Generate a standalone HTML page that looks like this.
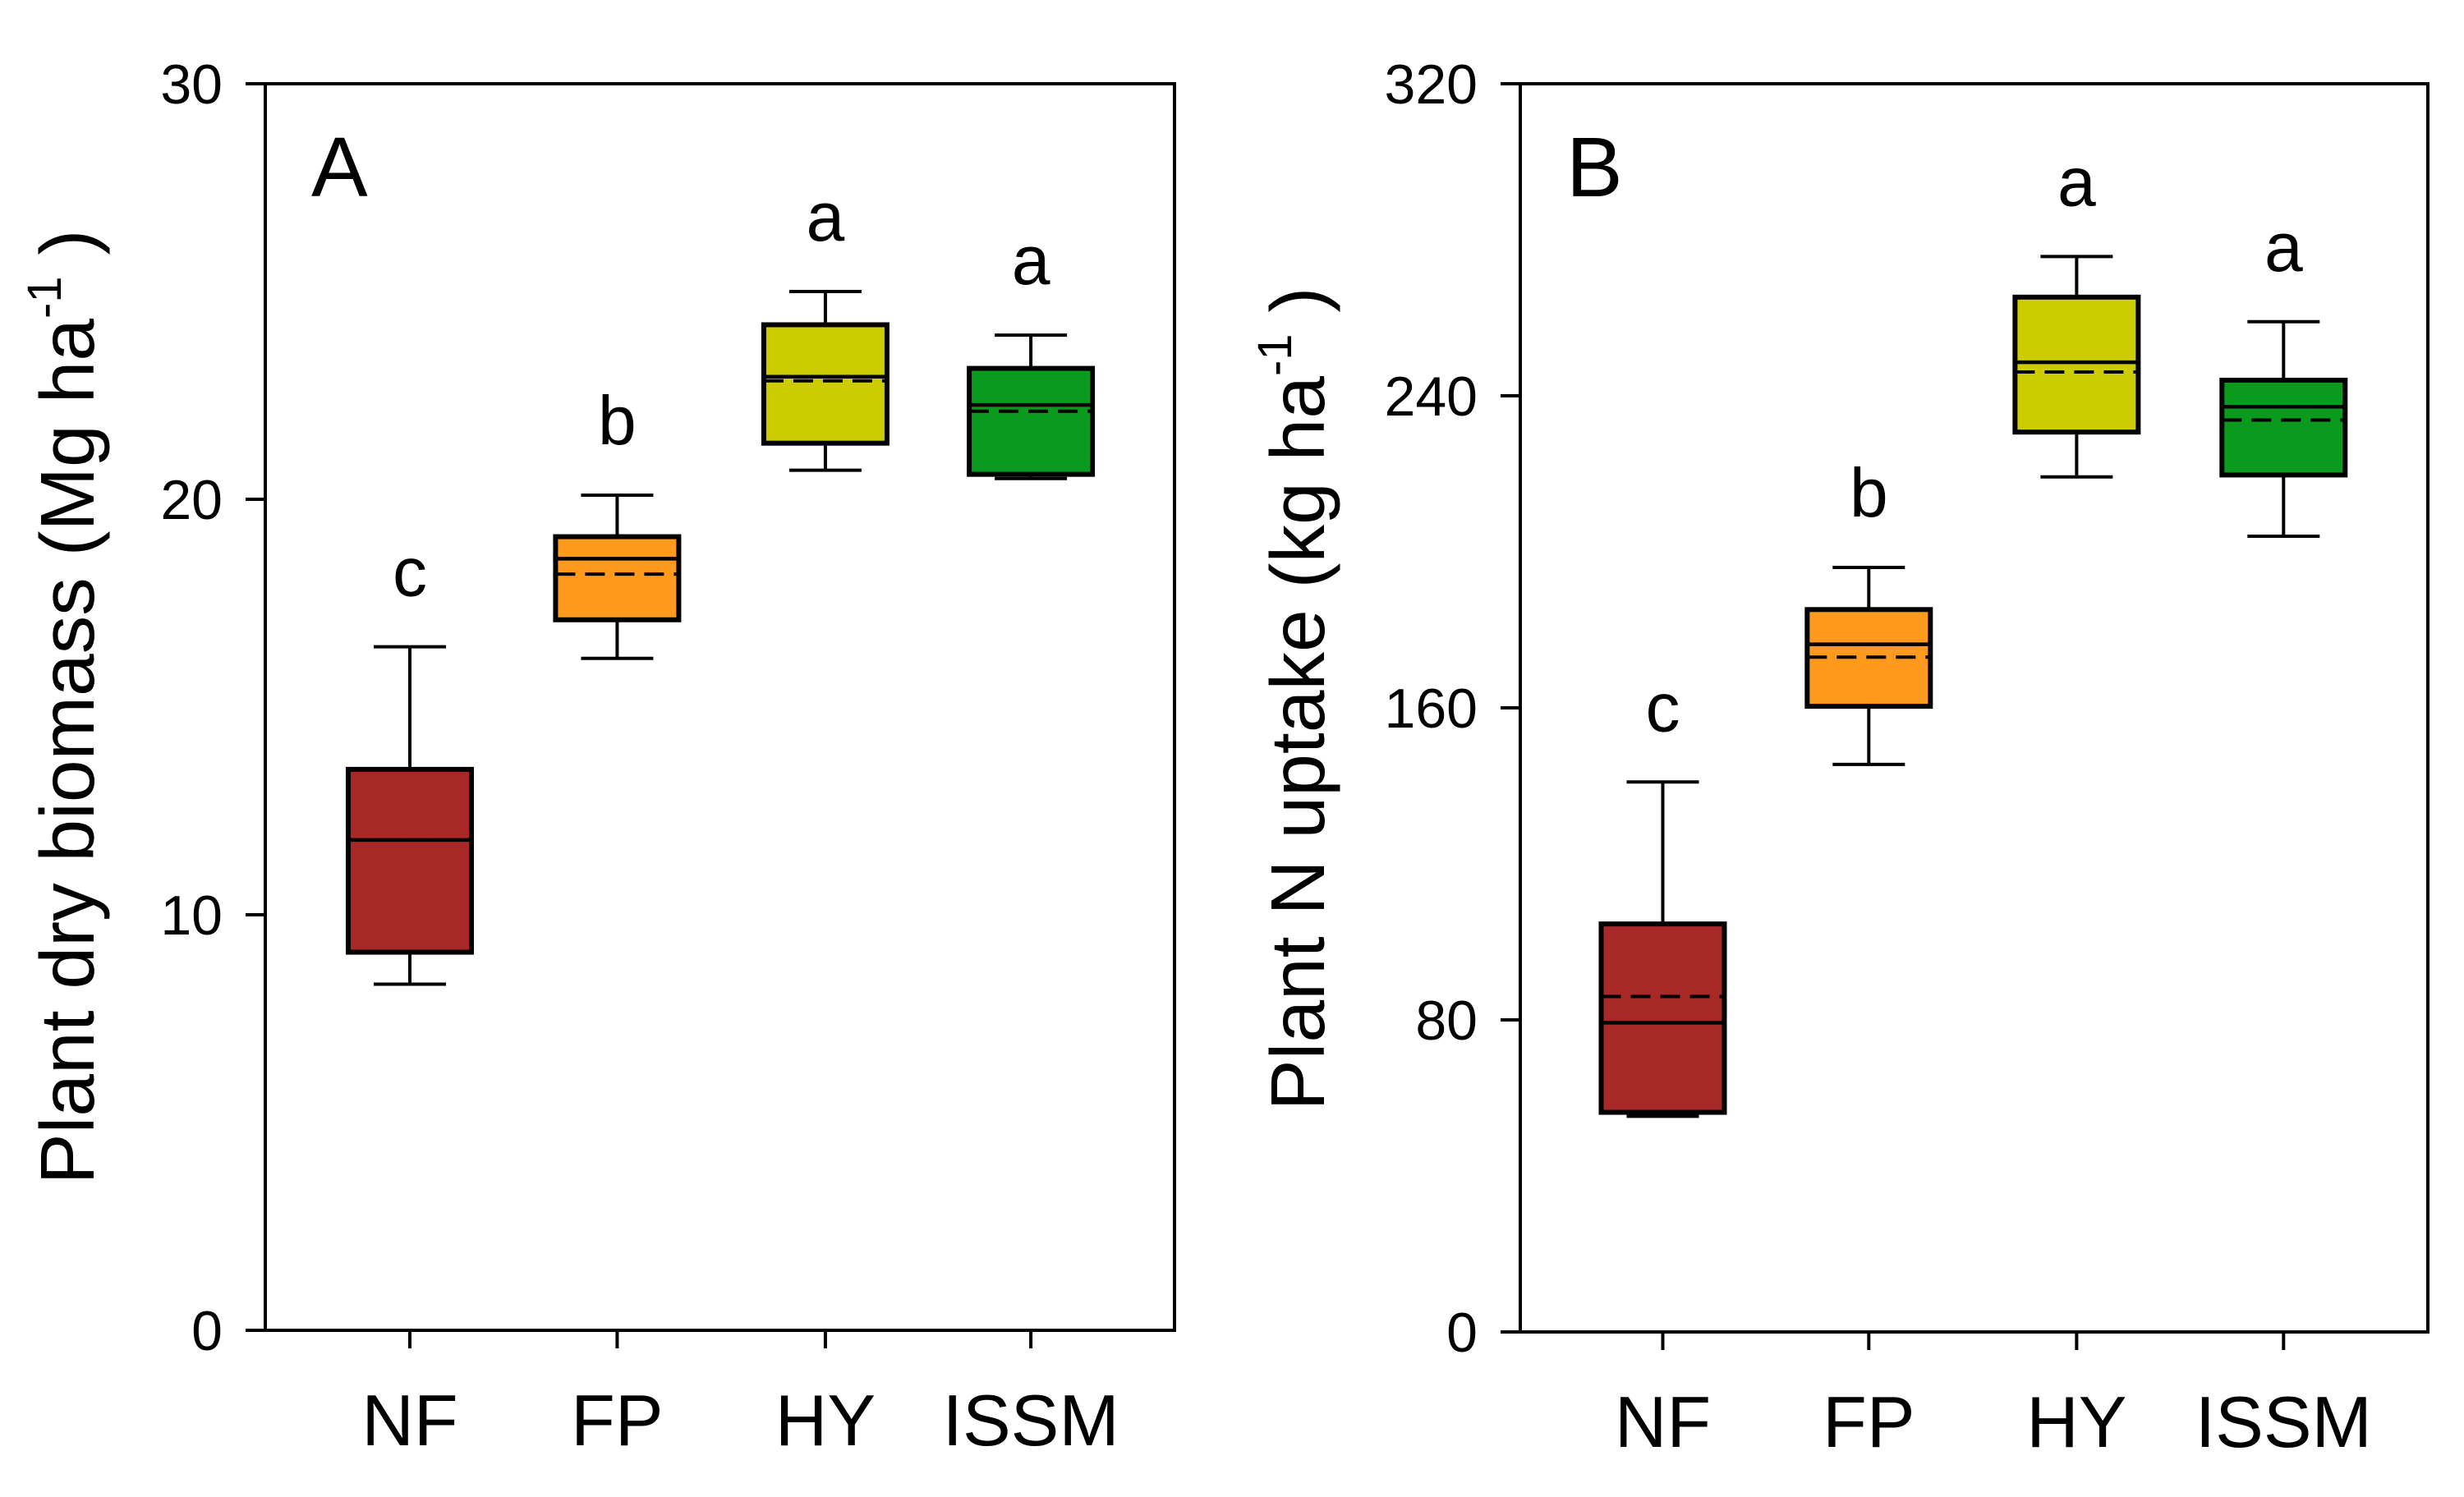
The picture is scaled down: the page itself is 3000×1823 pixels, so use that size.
<!DOCTYPE html>
<html><head><meta charset="utf-8"><style>
html,body{margin:0;padding:0;background:#fff;}
svg{display:block;font-family:"Liberation Sans",Arial,sans-serif;}
</style></head><body>
<svg id="chart" width="3000" height="1823" viewBox="0 0 3000 1823" xmlns="http://www.w3.org/2000/svg">
<rect width="3000" height="1823" fill="#ffffff"/>
</svg>
<script>
const categories = ["NF","FP","HY","ISSM"];
const colors = ["#a82828","#ff9a1e","#cccc00","#0a9a1e"];
// Panel A: biomass
const aWhiskerLow = [8.33,16.17,20.7,20.5];
const aQ1 = [9.1,17.1,21.35,20.6];
const aMedian = [11.8,18.57,22.95,22.27];
const aMean = [11.8,18.2,22.85,22.12];
const aQ3 = [13.5,19.1,24.2,23.15];
const aWhiskerHigh = [16.45,20.1,25.0,23.95];
const aLetters = ["c","b","a","a"];
const aTicks = [0,10,20,30];
// Panel B: N uptake
const bWhiskerLow = [55.3,145.5,219.2,204];
const bQ1 = [56.3,160.4,230.7,219.7];
const bMedian = [79.3,176.3,248.6,237.2];
const bMean = [86,173,246.1,233.8];
const bQ3 = [104.6,185.2,265.3,244];
const bWhiskerHigh = [141,196,275.7,259];
const bLetters = ["c","b","a","a"];
const bTicks = [0,80,160,240,320];

const NS="http://www.w3.org/2000/svg";
const svg=document.getElementById('chart');
function mk(tag,attrs,parent){const e=document.createElementNS(NS,tag);for(const k in attrs)e.setAttribute(k,attrs[k]);(parent||svg).appendChild(e);return e;}

function panel(p){
  const g=mk('g',{});
  
  
  const y=v=>p.bottom-(v-p.min)/(p.max-p.min)*(p.bottom-p.top);
  const x=i=>p.left+(p.right-p.left)*p.pos[i];
  const fr=mk('rect',{x:p.left,y:p.top,width:p.right-p.left,height:p.bottom-p.top,fill:'none',stroke:'#000','stroke-width':4},g);
  
  
  p.ticks.forEach(t=>{
    const l=mk('line',{x1:p.left-24,x2:p.left,y1:y(t),y2:y(t),stroke:'#000','stroke-width':4},g);
    
    
    const tx=mk('text',{x:p.left-52,y:y(t)+24,'text-anchor':'end','font-size':68,fill:'#000'},g);
    tx.textContent=t;
    
    
  });
  const yt=mk('text',{x:0,y:0,transform:`translate(${p.titleX},${p.titleY}) rotate(-90)`,'text-anchor':'middle','font-size':93,fill:'#000'},g);
  
  
  yt.appendChild(document.createTextNode(p.title+' ('+p.unit+' ha'));
  const sup=mk('tspan',{'font-size':58,dy:-40},yt);sup.textContent='-1';
  const cl=mk('tspan',{dy:40},yt);cl.textContent=' )';
  const pl=mk('text',{x:p.left+56,y:p.top+137,'font-size':103,fill:'#000'},g);
  pl.textContent=p.letter;
  
  
  const hw=75, cw=44;
  categories.forEach((c,i)=>{
    const cx=x(i);
    const bg=mk('g',{},g);
    
    
    mk('line',{x1:cx,x2:cx,y1:y(p.wh[i]),y2:y(p.q3[i]),stroke:'#000','stroke-width':4},bg);
    mk('line',{x1:cx,x2:cx,y1:y(p.q1[i]),y2:y(p.wl[i]),stroke:'#000','stroke-width':4},bg);
    mk('line',{x1:cx-cw,x2:cx+cw,y1:y(p.wh[i]),y2:y(p.wh[i]),stroke:'#000','stroke-width':4},bg);
    mk('line',{x1:cx-cw,x2:cx+cw,y1:y(p.wl[i]),y2:y(p.wl[i]),stroke:'#000','stroke-width':4},bg);
    mk('rect',{x:cx-hw,y:y(p.q3[i]),width:2*hw,height:y(p.q1[i])-y(p.q3[i]),fill:colors[i],stroke:'#000','stroke-width':6},bg);
    mk('line',{x1:cx-hw,x2:cx+hw,y1:y(p.med[i]),y2:y(p.med[i]),stroke:'#000','stroke-width':4.5},bg);
    mk('line',{x1:cx-hw,x2:cx+hw,y1:y(p.mean[i]),y2:y(p.mean[i]),stroke:'#000','stroke-width':4,'stroke-dasharray':'24,12'},bg);
    const tk=mk('line',{x1:cx,x2:cx,y1:p.bottom,y2:p.bottom+22,stroke:'#000','stroke-width':4},g);
    
    
    const lb=mk('text',{x:cx,y:p.bottom+140,'text-anchor':'middle','font-size':88,fill:'#000'},g);
    lb.textContent=c;
    
    
    const lt=mk('text',{x:cx,y:y(p.wh[i])-62,'text-anchor':'middle','font-size':84,fill:'#000'},g);
    lt.textContent=p.letters[i];
    
    
  });
}
panel({name:'panel-a',left:323,right:1430,top:102,bottom:1620,min:0,max:30,pos:[0.159,0.387,0.616,0.842],
  ticks:aTicks,wl:aWhiskerLow,q1:aQ1,med:aMedian,mean:aMean,q3:aQ3,wh:aWhiskerHigh,letters:aLetters,
  title:'Plant dry biomass',unit:'Mg',titleX:114,titleY:861,letter:'A'});
panel({name:'panel-b',left:1851,right:2956,top:102,bottom:1622,min:0,max:320,pos:[0.157,0.384,0.613,0.841],
  ticks:bTicks,wl:bWhiskerLow,q1:bQ1,med:bMedian,mean:bMean,q3:bQ3,wh:bWhiskerHigh,letters:bLetters,
  title:'Plant N uptake',unit:'kg',titleX:1612,titleY:851,letter:'B'});
</script>
</body></html>
